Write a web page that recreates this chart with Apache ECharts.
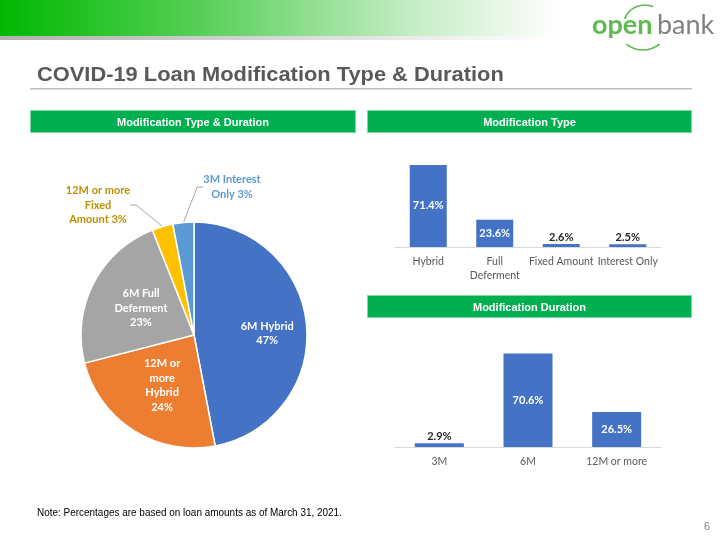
<!DOCTYPE html>
<html>
<head>
<meta charset="utf-8">
<script src="https://cdn.jsdelivr.net/npm/echarts@6/dist/echarts.min.js"></script>
<style>
html,body{margin:0;padding:0;background:#fff;}
#main{width:720px;height:540px;}
</style>
</head>
<body>
<div id="main"></div>
<script>
// ---- data ----
const pieNames = ['6M Hybrid', '12M or more Hybrid', '6M Full Deferment', '12M or more Fixed Amount', '3M Interest Only'];
const pieValues = [47, 24, 23, 3, 3];
const pieLabels = ['6M Hybrid\n47%', '12M or\nmore\nHybrid\n24%', '6M Full\nDeferment\n23%', '12M or more\nFixed\nAmount 3%', '3M Interest\nOnly 3%'];

const typeCategories = ['Hybrid', 'Full\nDeferment', 'Fixed Amount', 'Interest Only'];
const typeValues = [71.4, 23.6, 2.6, 2.5];

const durationCategories = ['3M', '6M', '12M or more'];
const durationValues = [2.9, 70.6, 26.5];

// ---- styles ----
const pieColors = ['#4472C4', '#ED7D31', '#A5A5A5', '#FFC000', '#5B9BD5'];
const outsideLabelColors = {3: '#BF9000', 4: '#5B9BD5'};
const labelFont = 'Lato';
const arialFont = 'Liberation Sans';

const chart = echarts.init(document.getElementById('main'), null, {renderer: 'canvas'});

function barSeries(values, xi, barW) {
  return {
    type: 'bar',
    xAxisIndex: xi, yAxisIndex: xi,
    barWidth: barW,
    data: values.map(v => ({
      value: v,
      label: v > 10
        ? {show: true, position: 'inside', color: '#fff'}
        : {show: true, position: 'top', distance: 1, color: '#262626'}
    })),
    itemStyle: {color: '#4472C4'},
    label: {formatter: p => p.value.toFixed(1) + '%', fontFamily: labelFont, fontWeight: 'bold', fontSize: 11},
    silent: true
  };
}

function catAxis(cats, gi) {
  return {
    type: 'category', gridIndex: gi, data: cats,
    axisLine: {lineStyle: {color: '#D9D9D9', width: 1}},
    axisTick: {show: false},
    axisLabel: {color: '#595959', fontFamily: labelFont, fontSize: 10.5, margin: 8, lineHeight: 14, interval: 0}
  };
}
function valAxis(gi) {
  return {type: 'value', gridIndex: gi, min: 0, max: 80, show: false, splitLine: {show: false}};
}

const greenBox = (x, y, w, h, txt) => ({
  type: 'group', left: x, top: y,
  children: [
    {type: 'rect', shape: {x: 0, y: 0, width: w, height: h}, style: {fill: '#00B050', stroke: '#7FD7A6', lineWidth: 1}},
    {type: 'text', x: w / 2, y: h / 2 + 1, style: {text: txt, fill: '#fff', fontFamily: arialFont, fontWeight: 'bold', fontSize: 11, textAlign: 'center', textVerticalAlign: 'middle'}}
  ]
});

const option = {
  animation: false,
  backgroundColor: '#fff',
  grid: [
    {left: 395, width: 266, top: 155, height: 92},
    {left: 395, width: 266, top: 341, height: 106}
  ],
  xAxis: [catAxis(typeCategories, 0), catAxis(durationCategories, 1)],
  yAxis: [valAxis(0), valAxis(1)],
  graphic: [
    // header band
    {type: 'rect', left: 0, top: 0, shape: {width: 560, height: 36},
      style: {fill: new echarts.graphic.LinearGradient(0, 0, 1, 0, [
        {offset: 0, color: '#00B800'}, {offset: 0.35, color: '#55CF55'}, {offset: 0.75, color: '#C8EEC8'}, {offset: 1, color: '#FFFFFF'}])}},
    {type: 'rect', left: 0, top: 36, shape: {width: 560, height: 4},
      style: {fill: new echarts.graphic.LinearGradient(0, 0, 1, 0, [
        {offset: 0, color: '#B0B0B0'}, {offset: 1, color: '#FFFFFF'}])}},
    // logo
    {type: 'text', x: 592, y: 25, style: {text: 'open', fill: '#5DBB4F', fontFamily: labelFont, fontWeight: 'bold', fontSize: 27, textVerticalAlign: 'middle'}},
    {type: 'text', x: 657, y: 25, style: {text: 'bank', fill: '#808080', fontFamily: labelFont, fontWeight: 'normal', fontSize: 27, textVerticalAlign: 'middle'}},
    {type: 'arc', shape: {cx: 645, cy: 27, r: 22, startAngle: Math.PI * 1.12, endAngle: Math.PI * 1.62}, style: {stroke: '#5DBB4F', lineWidth: 1.6, fill: null}},
    {type: 'arc', shape: {cx: 643, cy: 24, r: 26, startAngle: Math.PI * 0.28, endAngle: Math.PI * 0.72}, style: {stroke: '#5DBB4F', lineWidth: 1.6, fill: null}},
    // title
    {type: 'text', x: 37, y: 75.5, scaleX: 1.12, style: {text: 'COVID-19 Loan Modification Type & Duration', fill: '#595959', fontFamily: arialFont, fontWeight: 'bold', fontSize: 19.5, textVerticalAlign: 'middle'}},
    {type: 'rect', left: 30, top: 88, shape: {width: 662, height: 1.5}, style: {fill: '#BFBFBF'}},
    // section headers
    greenBox(30, 110, 325, 22, 'Modification Type & Duration'),
    greenBox(367, 110, 324, 22, 'Modification Type'),
    greenBox(367, 295, 324, 22, 'Modification Duration'),
    // footnote and page number
    {type: 'text', x: 37, y: 513, scaleX: 0.905, style: {text: 'Note: Percentages are based on loan amounts as of March 31, 2021.', fill: '#000', fontFamily: arialFont, fontSize: 11, textVerticalAlign: 'middle'}},
    {type: 'text', x: 710, y: 527, style: {text: '6', fill: '#7F7F7F', fontFamily: arialFont, fontSize: 11, textAlign: 'right', textVerticalAlign: 'middle'}}
  ],
  series: [
    {
      type: 'pie',
      center: [194, 335],
      radius: 113,
      startAngle: 90,
      clockwise: true,
      avoidLabelOverlap: false,
      itemStyle: {borderColor: '#fff', borderWidth: 1.5},
      label: {show: true, position: 'inside', color: '#fff', fontFamily: labelFont, fontWeight: 'bold', fontSize: 11, lineHeight: 14.5, formatter: p => pieLabels[p.dataIndex]},
      labelLine: {show: false},
      data: pieNames.map((n, i) => {
        const d = {name: n, value: pieValues[i], itemStyle: {color: pieColors[i]}};
        if (outsideLabelColors[i]) {
          d.label = {position: 'outside', color: outsideLabelColors[i]};
          d.labelLine = {show: true, length: 8, length2: 6, lineStyle: {color: '#A6A6A6', width: 1}};
        }
        return d;
      }),
      labelLayout: function (p) {
        if (p.dataIndex === 0) return {dx: 14, dy: 4};
        if (p.dataIndex === 3) return {x: 98, y: 205, align: 'center', verticalAlign: 'middle'};
        if (p.dataIndex === 4) return {x: 232, y: 187, align: 'center', verticalAlign: 'middle'};
        return {};
      },
      silent: true
    },
    barSeries(typeValues, 0, 37),
    barSeries(durationValues, 1, 49)
  ]
};
chart.setOption(option);
</script>
</body>
</html>
